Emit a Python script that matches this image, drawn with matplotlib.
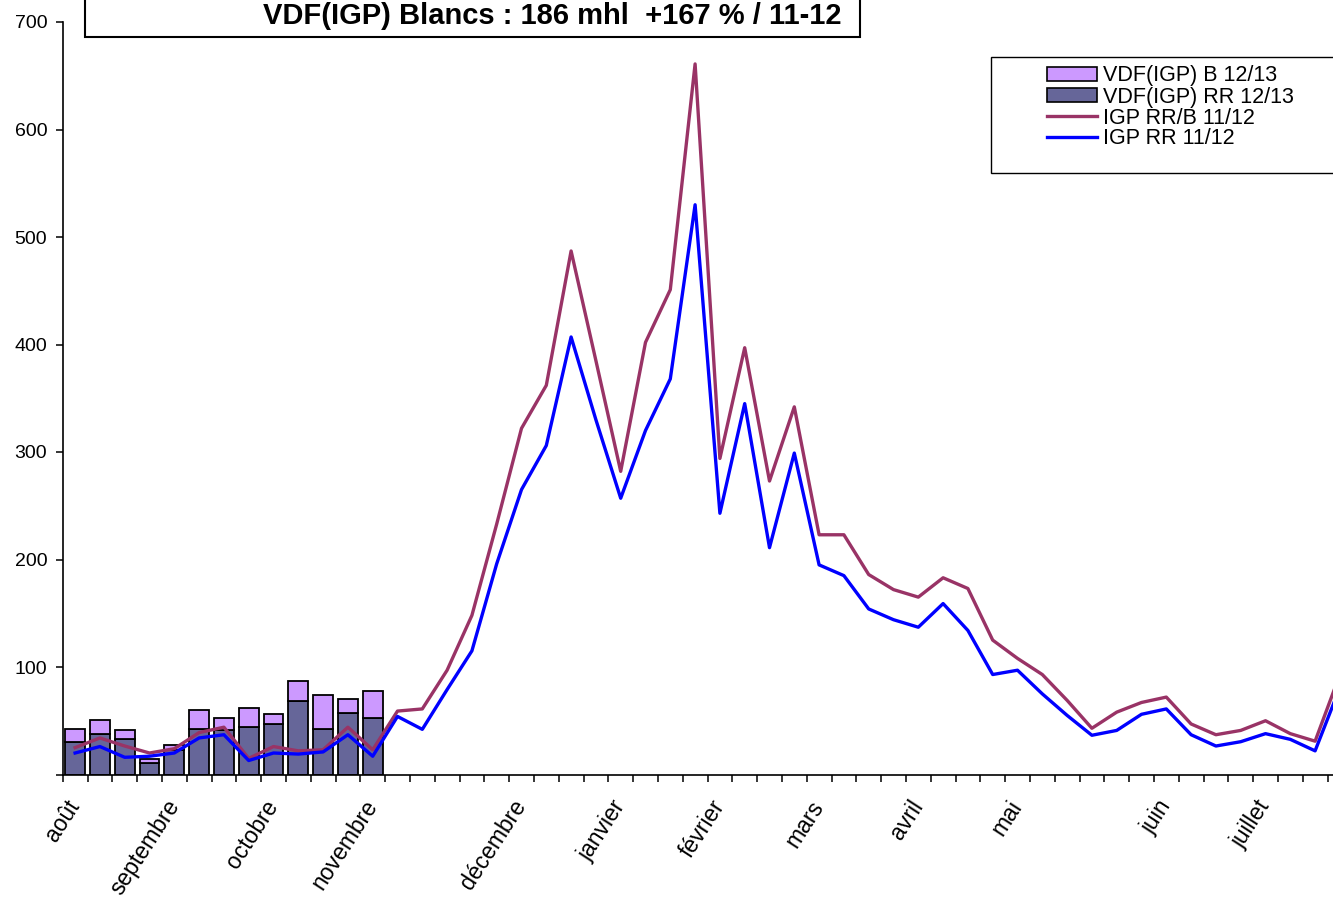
import matplotlib
matplotlib.use("Agg")
import matplotlib.pyplot as plt
from matplotlib.patches import Rectangle, Patch
from matplotlib.lines import Line2D
import numpy as np

plt.rcParams["font.family"] = ["Liberation Sans", "DejaVu Sans"]

# weekly categories (52 weeks, août -> juillet)
N_WEEKS = 52
MONTHS = ["août", "septembre", "octobre", "novembre", "décembre", "janvier",
          "février", "mars", "avril", "mai", "juin", "juillet"]
MONTH_POS = [0, 4, 8, 12, 18, 22, 26, 30, 34, 38, 44, 48]

# 12/13 campaign bars (first 13 weeks)
VDF_RR_1213 = [30, 38, 33, 11, 23, 42, 41, 44, 47, 68, 42, 57, 53]
VDF_B_1213 = [12, 13, 8, 3, 4, 18, 12, 18, 9, 19, 32, 13, 25]

# 11/12 lines
IGP_RRB_1112 = [25, 34, 26.5, 20, 24, 39, 44, 15, 26, 22, 23, 44, 23, 59, 61,
                97, 148, 233, 322, 362, 487, 385, 282, 402, 451, 661, 294, 397,
                273, 342, 223, 223, 186, 172, 165, 183, 173, 125, 108, 93, 69,
                43, 58, 67, 72, 47, 37, 41, 50, 38, 31, 93]
IGP_RR_1112 = [20, 26, 16, 17, 20, 34, 37, 13, 20, 19, 21, 37, 17, 54, 42,
               79, 115, 196, 265, 306, 407, 330, 257, 320, 368, 530, 243, 345,
               211, 299, 195, 185, 154, 144, 137, 159, 134, 93, 97, 75, 55,
               36.5, 41, 56, 61, 37, 26.5, 30.5, 38, 32.7, 22, 81]

TITLE = "VDF(IGP) Blancs : 186 mhl  +167 % / 11-12"

W, H = 1333, 901
fig = plt.figure(figsize=(W / 100, H / 100), dpi=100)
ax = fig.add_axes([62.7 / W, (H - 774.5) / H, N_WEEKS * 24.8 / W, 752.5 / H])

xb = np.arange(len(VDF_RR_1213))
ax.bar(xb, VDF_RR_1213, width=0.8, color="#666699", edgecolor="black", linewidth=1.3, zorder=2)
ax.bar(xb, VDF_B_1213, width=0.8, bottom=VDF_RR_1213, color="#CC99FF",
       edgecolor="black", linewidth=1.3, zorder=2)

x = np.arange(N_WEEKS)
ax.plot(x, IGP_RRB_1112, color="#993366", linewidth=2.4, zorder=3)
ax.plot(x, IGP_RR_1112, color="#0000FF", linewidth=2.4, zorder=3)

ax.set_xlim(-0.5, N_WEEKS - 0.5)
ax.set_ylim(0, 700)
ax.set_yticks(range(0, 701, 100))
ax.set_yticklabels([""] + [str(v) for v in range(100, 701, 100)])
ax.tick_params(axis="y", direction="out", length=4.7, width=1.1, pad=6.5, labelsize=14)

ax.set_xticks(MONTH_POS)
ax.set_xticklabels(MONTHS, rotation=57, ha="right", va="center", rotation_mode="anchor")
ax.set_xticks(np.arange(-0.5, N_WEEKS, 1), minor=True)
ax.tick_params(axis="x", which="major", length=0, pad=20, labelsize=16.5)
ax.tick_params(axis="x", which="minor", direction="out", length=5, width=1.1)

for s in ["top", "right"]:
    ax.spines[s].set_visible(False)
for s in ["left", "bottom"]:
    ax.spines[s].set_linewidth(1.2)

# title box (top cut off as in the original)
fig.add_artist(Rectangle((85 / W, (H - 37) / H), 775 / W, 60 / H, transform=fig.transFigure,
                         facecolor="white", edgecolor="black", linewidth=1.5, zorder=5))
fig.text(552 / W, (H - 24) / H, TITLE, ha="center", va="baseline",
         fontsize=21, fontweight="bold", zorder=6)

# legend
fig.add_artist(Rectangle((991 / W, (H - 173) / H), 360 / W, 116 / H, transform=fig.transFigure,
                         facecolor="white", edgecolor="black", linewidth=1.0, zorder=5))
handles = [Patch(facecolor="#CC99FF", edgecolor="black", linewidth=1.2),
           Patch(facecolor="#666699", edgecolor="black", linewidth=1.2),
           Line2D([], [], color="#993366", linewidth=2.4),
           Line2D([], [], color="#0000FF", linewidth=2.4)]
labels = ["VDF(IGP) B 12/13", "VDF(IGP) RR 12/13", "IGP RR/B 11/12", "IGP RR 11/12"]
leg = fig.legend(handles, labels, loc="upper left", bbox_to_anchor=(1047 / W, (H - 65.5) / H),
                 frameon=False, fontsize=15.5, handlelength=2.33, handleheight=0.65,
                 handletextpad=0.28, labelspacing=0.0, borderpad=0, borderaxespad=0)
leg.set_zorder(6)

fig.savefig("out.png", dpi=100)
